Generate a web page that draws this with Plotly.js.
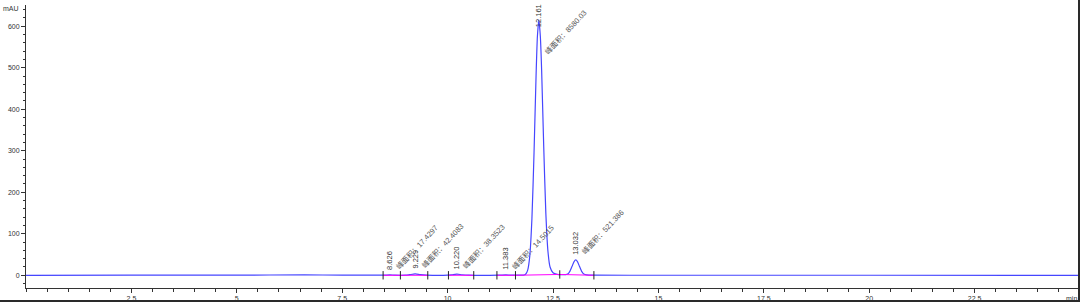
<!DOCTYPE html>
<html>
<head>
<meta charset="utf-8">
<script src="https://cdn.plot.ly/plotly-3.0.1.min.js"></script>
<style>
  html, body { margin: 0; padding: 0; background: #fff; }
  #wrap { position: relative; width: 1080px; height: 302px; overflow: hidden; }
  #chart { width: 1080px; height: 302px; }
  #frame { position: absolute; left: 0; top: 0; width: 1078px; height: 300px;
           border-right: 2px solid #2a2a2a; border-bottom: 2px solid #2a2a2a; pointer-events: none; }
</style>
</head>
<body>
<div id="wrap"><div id="chart"></div><div id="frame"></div></div>
<script>
// ---- signal (time in min, absorbance in mAU) ----
const timeMin = [0, 2.5, 5, 6.6, 7.5, 8.4, 8.5, 8.63, 8.75, 9.0, 9.1, 9.229, 9.35, 9.5,
  10.0, 10.1, 10.22, 10.34, 10.5, 11.2, 11.383, 11.5, 11.7, 11.8, 11.85, 11.9, 11.95,
  12.0, 12.05, 12.1, 12.13, 12.165, 12.2, 12.23, 12.28, 12.33, 12.38, 12.43, 12.5,
  12.6, 12.7, 12.8, 12.85, 12.9, 12.95, 13.0, 13.04, 13.08, 13.13, 13.18, 13.23,
  13.3, 13.5, 15, 20, 25];
const signalMAU = [0, 0.2, 0.3, 1, 0.3, 0.2, 0.2, 1.2, 0.3, 0.3, 1.5, 3.2, 1.5, 0.3,
  0.2, 1.3, 2.8, 1.3, 0.2, 0.2, 1.0, 0.3, 0.3, 0.4, 2.5, 12.6, 47.5,
  136, 295, 487, 575, 615, 575, 495, 310, 150, 58, 20, 6,
  2, 1.5, 1.8, 3, 9.5, 21, 33, 37, 33, 21, 9.5, 3,
  0.8, 0.2, 0.1, 0.1, 0];

// ---- integration baselines ----
const baseStartT = [8.47, 8.88, 10.02, 11.17, 11.61, 12.66];
const baseEndT   = [8.88, 9.53, 10.62, 11.61, 12.66, 13.47];
const baseStartV = [0, 0, 0, 0, 0, 2];
const baseEndV   = [0, 0, 0, 0, 2, 0];

// ---- peak table ----
const peakRT     = [8.626, 9.229, 10.220, 11.383, 12.161, 13.032];
const peakRTText = ['8.626', '9.229', '10.220', '11.383', '12.161', '13.032'];
const peakHeight = [1.2, 3.2, 2.8, 1.0, 615, 37];
const peakArea   = ['17.4297', '42.4083', '38.3523', '14.5015', '8580.03', '521.386'];

// ---- axes ----
const xTickVals = [2.5, 5, 7.5, 10, 12.5, 15, 17.5, 20, 22.5];
const xTickText = ['2.5', '5', '7.5', '10', '12.5', '15', '17.5', '20', '22.5'];
const yTickVals = [0, 100, 200, 300, 400, 500, 600];
const xRange = [0, 25];
const yRange = [-30.6, 651];

const FONT = 'Liberation Sans, Arial, Noto Sans CJK SC, sans-serif';
const AX = '#333333';

// baseline segment trace
const bx = [], by = [];
baseStartT.forEach((t, i) => {
  bx.push(t, baseEndT[i], null);
  by.push(baseStartV[i], baseEndV[i], null);
});
// integration event tick marks
const tickT = [], tickV = [];
baseStartT.forEach((t, i) => { tickT.push(t); tickV.push(baseStartV[i]); });
tickT.push(baseEndT[baseEndT.length - 1]); tickV.push(baseEndV[baseEndV.length - 1]);
tickT.push(baseEndT[1]); tickV.push(baseEndV[1]);
tickT.push(baseEndT[2]); tickV.push(baseEndV[2]);

const traces = [
  { x: timeMin, y: signalMAU, type: 'scatter', mode: 'lines',
    line: { color: '#4646ff', width: 1.2, shape: 'spline', smoothing: 0.6 }, hoverinfo: 'skip' },
  { x: bx, y: by, type: 'scatter', mode: 'lines',
    line: { color: '#ff00ff', width: 1 }, hoverinfo: 'skip' },
  { x: tickT, y: tickV, type: 'scatter', mode: 'markers',
    marker: { symbol: 'line-ns-open', size: 6, color: '#222222', line: { color: '#222222', width: 1 } },
    hoverinfo: 'skip' }
];

const annotations = [];
peakRT.forEach((rt, i) => {
  const high = peakHeight[i] > yRange[1] * 0.5;
  annotations.push({
    x: rt, y: high ? yRange[1] : peakHeight[i], xref: 'x', yref: 'y', text: peakRTText[i],
    showarrow: false, textangle: -90, xanchor: 'center', yanchor: high ? 'top' : 'bottom',
    yshift: high ? 3 : 3,
    font: { family: FONT, size: 7.5, color: '#333' }
  });
  annotations.push({
    x: rt, y: high ? yRange[1] : peakHeight[i], xref: 'x', yref: 'y',
    text: '峰面积：' + peakArea[i],
    showarrow: false, textangle: -47, xanchor: 'left', yanchor: high ? 'top' : 'bottom',
    xshift: 1, yshift: high ? 0 : 1,
    font: { family: FONT, size: 7.5, color: '#555' }
  });
});
annotations.push({ x: 0, y: 1, xref: 'paper', yref: 'paper', text: 'mAU', showarrow: false,
  xanchor: 'right', yanchor: 'middle', xshift: -5, yshift: -3,
  font: { family: FONT, size: 7, color: AX } });
annotations.push({ x: 1, y: 0, xref: 'paper', yref: 'paper', text: 'min', showarrow: false,
  xanchor: 'right', yanchor: 'top', xshift: -1, yshift: -5,
  font: { family: FONT, size: 7, color: AX } });

const layout = {
  width: 1080, height: 302,
  margin: { l: 26, r: 0, t: 5, b: 14, pad: 0 },
  paper_bgcolor: '#ffffff', plot_bgcolor: '#ffffff',
  showlegend: false,
  xaxis: {
    range: xRange, showline: true, linecolor: AX, linewidth: 1, mirror: false,
    ticks: 'outside', ticklen: 4, tickcolor: AX, tickwidth: 1,
    tickmode: 'array', tickvals: xTickVals, ticktext: xTickText,
    tickfont: { family: FONT, size: 7, color: AX },
    minor: { tickmode: 'linear', tick0: 0, dtick: 0.5, ticklen: 2.5, tickcolor: AX, showgrid: false },
    showgrid: false, zeroline: false
  },
  yaxis: {
    range: yRange, showline: true, linecolor: AX, linewidth: 1,
    ticks: 'outside', ticklen: 4, tickcolor: AX, tickwidth: 1,
    tickmode: 'array', tickvals: yTickVals,
    tickfont: { family: FONT, size: 7, color: AX },
    minor: { tickmode: 'linear', tick0: 0, dtick: 20, ticklen: 2.5, tickcolor: AX, showgrid: false },
    showgrid: false, zeroline: false
  },
  annotations: annotations
};

Plotly.newPlot('chart', traces, layout, { displayModeBar: false, staticPlot: true });
</script>
</body>
</html>
